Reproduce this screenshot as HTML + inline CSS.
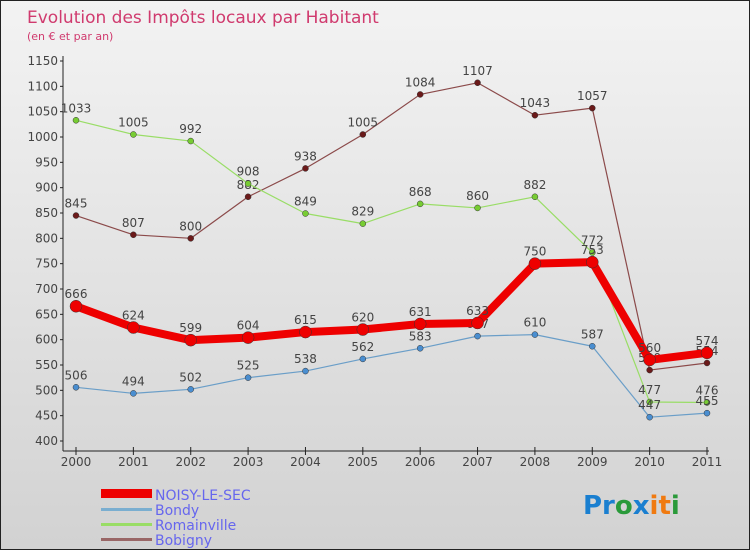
<!DOCTYPE html>
<html><head><meta charset="utf-8"><style>
body{margin:0;}
#c{width:750px;height:550px;position:relative;background:linear-gradient(#f3f3f3,#d2d2d2);border:1px solid #222;box-sizing:border-box;font-family:"DejaVu Sans","Liberation Sans",sans-serif;overflow:hidden}
text{font-family:"DejaVu Sans","Liberation Sans",sans-serif}
</style></head><body>
<div id="c">
<svg id="s" width="750" height="550">
<text x="26" y="22" font-size="17" fill="#d03a6e">Evolution des Impôts locaux par Habitant</text>
<text x="26" y="39" font-size="11" fill="#d03a6e">(en € et par an)</text>
<g id="axes"></g><g id="series"></g>
<g>
<rect x="100" y="488" width="51" height="9" fill="#e00"/>
<text x="154" y="499" font-size="14" fill="#6666ee">NOISY-LE-SEC</text>
<rect x="100" y="507" width="51" height="3" fill="#7aaed0"/>
<text x="154" y="514" font-size="14" fill="#6666ee">Bondy</text>
<rect x="100" y="522" width="51" height="3" fill="#99dd66"/>
<text x="154" y="529" font-size="14" fill="#6666ee">Romainville</text>
<rect x="100" y="537" width="51" height="3" fill="#996666"/>
<text x="154" y="544" font-size="14" fill="#6666ee">Bobigny</text>
</g>
<text x="582" y="513" font-size="26" font-weight="bold"><tspan fill="#1a7fd0">Pr</tspan><tspan fill="#2a9a3a">o</tspan><tspan fill="#1a7fd0">x</tspan><tspan fill="#f07a10">it</tspan><tspan fill="#2a9a3a">i</tspan></text>
</svg></div>
<script>
const years=[2000,2001,2002,2003,2004,2005,2006,2007,2008,2009,2010,2011];
const yTicks=[400,450,500,550,600,650,700,750,800,850,900,950,1000,1050,1100,1150];
const noisy=[666,624,599,604,615,620,631,633,750,753,560,574];
const bondy=[506,494,502,525,538,562,583,607,610,587,447,455];
const romainville=[1033,1005,992,908,849,829,868,860,882,772,477,476];
const bobigny=[845,807,800,882,938,1005,1084,1107,1043,1057,540,554];
const NS="http://www.w3.org/2000/svg";
function X(i){return 75+i*(706-75)/11;}
function Y(v){return 440-(v-400)*(380/750);}
function mk(t,a,p){const e=document.createElementNS(NS,t);for(const k in a)e.setAttribute(k,a[k]);p.appendChild(e);return e;}
const ax=document.getElementById('axes');
let l=mk('line',{x1:62,y1:55,x2:62,y2:450,stroke:'#222'},ax);


l=mk('line',{x1:62,y1:450,x2:708,y2:450,stroke:'#222'},ax);


yTicks.forEach(v=>{
 const y=Y(v);
 mk('line',{x1:59,y1:y,x2:62,y2:y,stroke:'#222'},ax);
 const t=mk('text',{x:57,y:y+4,'font-size':12,'text-anchor':'end',fill:'#444'},ax);t.textContent=v;
 
 
});
years.forEach((yr,i)=>{
 const x=X(i);
 mk('line',{x1:x,y1:446,x2:x,y2:454,stroke:'#222'},ax);
 const t=mk('text',{x:x,y:465,'font-size':12,'text-anchor':'middle',fill:'#444'},ax);t.textContent=yr;
 
 
});
const sg=document.getElementById('series');
function series(data,name,color,dot,w,r,labels){
 const g=mk('g',{},sg);
 
 
 const pts=data.map((v,i)=>X(i)+','+Y(v)).join(' ');
 const pl=mk('polyline',{points:pts,fill:'none',stroke:color,'stroke-width':w,'stroke-linejoin':'round'},g);
 
 
 data.forEach((v,i)=>{
  const c=mk('circle',{cx:X(i),cy:Y(v),r:r,fill:dot,stroke:'#333','stroke-width':0.5},g);
  
  
  const t=mk('text',{x:X(i),y:Y(v)-8,'font-size':12,'text-anchor':'middle',fill:'#444'},g);t.textContent=v;
  
  
 });
}
series(bobigny,'bobigny','#8b4a4a','#6b1a1a',1.2,3);
series(romainville,'romainville','#99dd66','#77cc33',1.2,3);
series(bondy,'bondy','#6a9ec8','#4a8ed0',1.2,3);
series(noisy,'noisy-le-sec','#ee0000','#ee0000',8,6);
</script>
</body></html>
